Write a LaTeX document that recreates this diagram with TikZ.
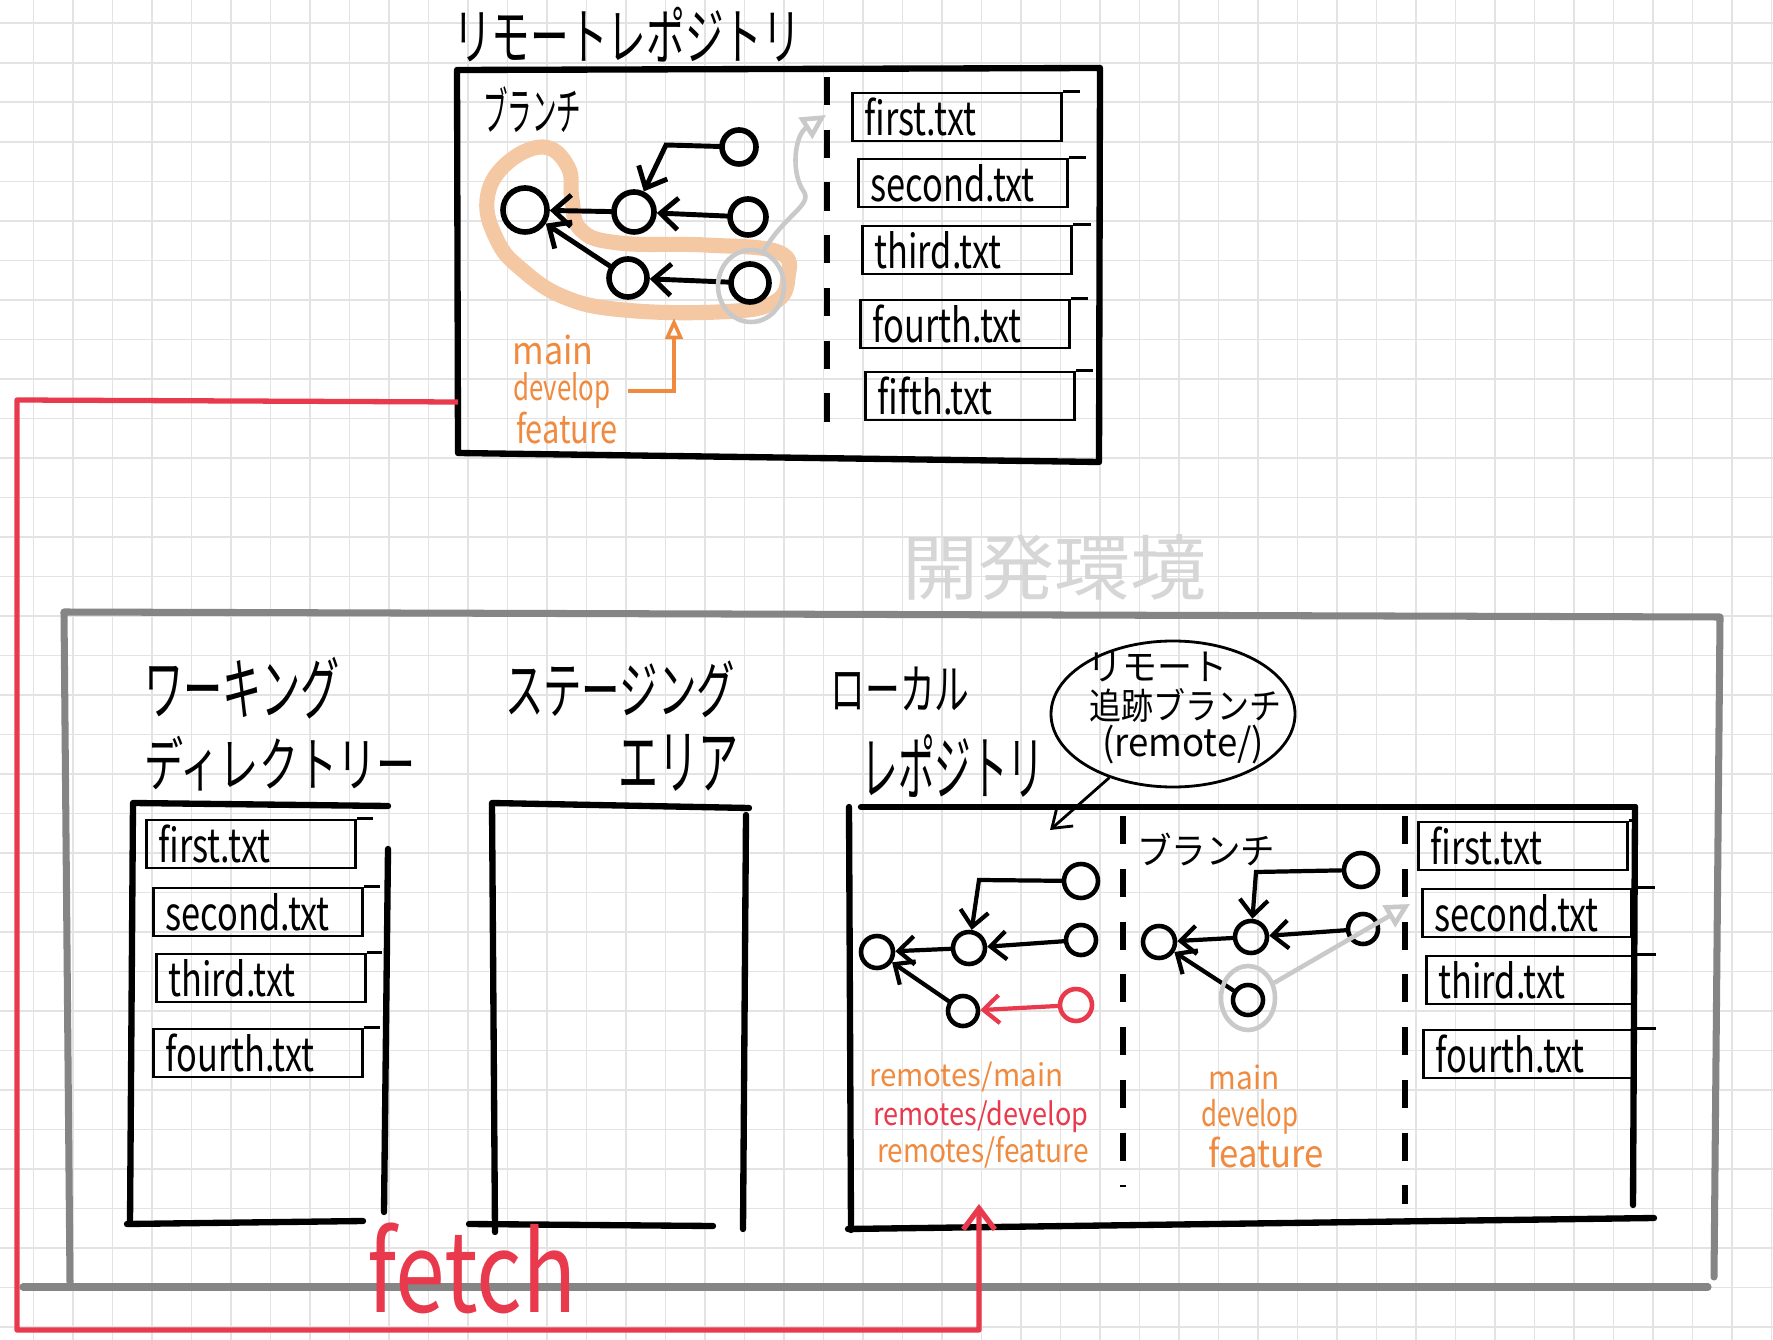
\documentclass[tikz,border=0pt]{standalone}
\usepackage{fontspec}
\setmainfont{Noto Sans CJK JP}
\usepackage{graphicx}
\usetikzlibrary{arrows.meta,shapes.geometric}
\newlength\pxu \setlength\pxu{0.01cm}
\newcommand\fitt[3]{\resizebox*{#1\pxu}{#2\pxu}{#3}}
\newcommand\fname[1]{\scalebox{0.85}[1.15]{\fontsize{11.5}{13}\selectfont #1}}
\definecolor{gridc}{HTML}{E3E3E3}
\definecolor{orng}{HTML}{F08A3E}
\definecolor{redc}{HTML}{E8394D}
\definecolor{peach}{HTML}{F5C8A4}
\definecolor{boxgray}{HTML}{858585}
\definecolor{ltgray}{HTML}{D6D6D6}
\definecolor{arrgray}{HTML}{C9C9C9}
\begin{document}
\begin{tikzpicture}[x=0.01cm,y=-0.01cm,
  heavy/.style={line width=1.8pt, line cap=round, line join=round},
  dashdiv/.style={line width=1.5pt, dash pattern=on 8pt off 7pt},
  filebox/.style={draw, line width=0.8pt, minimum height=48\pxu, text width=185\pxu, inner xsep=12\pxu, inner ysep=0pt, align=left},
  commitR/.style={circle, draw, line width=1.6pt, inner sep=0pt},
  commitL/.style={circle, draw, line width=1.3pt, inner sep=0pt, minimum size=32\pxu},
  carrR/.style={line width=1.4pt, line cap=round, -{Straight Barb[length=5pt,width=9pt]}},
  carrL/.style={line width=1.2pt, line cap=round, -{Straight Barb[length=4.5pt,width=8pt]}},
  grayarr/.style={draw=arrgray, line width=1.3pt, -{Triangle[open,length=7pt,width=7pt]}},
  orarr/.style={draw=orng, line width=1pt, -{Triangle[open,length=6pt,width=5pt]}},
  txt/.style={inner sep=0pt}
]
\useasboundingbox (0,0) rectangle (1773,1340);
\fill[white] (0,0) rectangle (1773,1340);
% grid
\foreach \i in {0,...,44} \draw[gridc, line width=0.45pt] ({33.3+39.5*\i},0) -- ({33.3+39.5*\i},1340);
\foreach \j in {0,...,33} \draw[gridc, line width=0.45pt] (0,{23.3+39.5*\j}) -- (1773,{23.3+39.5*\j});

% ===== remote repository =====
\node[txt] (remTitle) at (627,35) {\fitt{348}{55}{リモートレポジトリ}};
\draw[heavy] (457,70) -- (1100,68) -- (1099,462) -- (458,453) -- cycle;
\node[txt] (remBr) at (532,110) {\fitt{98}{46}{ブランチ}};
\draw[dashdiv] (827,77) -- (827,425);

% highlight loop
\draw[peach, line width=4.3pt, line join=round] plot[smooth cycle, tension=0.7] coordinates {(543,147) (505,165) (487,200) (497,240) (520,268) (564,297) (624,310) (718,312) (773,303) (788,277) (778,252) (705,245) (619,243) (581,230) (572,200) (568,167)};

% commits
\node[commitR, minimum size=44\pxu] (rA) at (525,210) {};
\node[commitR, minimum size=40\pxu] (rB) at (634,212) {};
\node[commitR, minimum size=34\pxu] (rC) at (739,147) {};
\node[commitR, minimum size=36\pxu] (rD) at (748,217) {};
\node[commitR, minimum size=38\pxu] (rE) at (628,278) {};
\node[commitR, minimum size=38\pxu] (rF) at (750,283) {};
\coordinate (rCb) at (666,145);
\draw[carrR] (rB) -- (rA);
\draw[carrR] (rD) -- (rB);
\draw[carrR] (rF) -- (rE);
\draw[carrR] (rE) -- (rA);
\draw[carrR] (rC) -- (rCb) -- (rB);

% gray ring and arrow
\node[ellipse, draw=arrgray, line width=1.3pt, minimum width=66\pxu, minimum height=72\pxu, inner sep=0pt] (rFring) at (751,286) {};
\coordinate (rGtip) at (826,115);
\draw[grayarr] (rFring.70) .. controls (785,215) and (812,205) .. (804,192) .. controls (790,172) and (795,135) .. (rGtip);

% files
\node[filebox] (rF1) at (957,117) {\fname{first.txt}};
\node[filebox] (rF2) at (963,183) {\fname{second.txt}};
\node[filebox] (rF3) at (967,250) {\fname{third.txt}};
\node[filebox] (rF4) at (965,324) {\fname{fourth.txt}};
\node[filebox] (rF5) at (970,396) {\fname{fifth.txt}};
\foreach \n/\e in {rF1/17,rF2/17,rF3/18,rF4/17,rF5/17}
  \draw[line width=0.8pt] (\n.north east) -- ++(\e,0);

% labels
\node[txt, text=orng] (rMain) at (553,350) {\fitt{81}{30}{main}};
\node[txt, text=orng] (rDev) at (562,391) {\fitt{97}{36}{develop}};
\node[txt, text=orng] (rFeat) at (567,428) {\fitt{102}{32}{feature}};
\coordinate (rHlTip) at (674,318);
\draw[orarr] ([xshift=17\pxu]rDev.east) -| (rHlTip);

% ===== development environment =====
\node[txt, text=ltgray] (devEnv) at (1054,568) {\fitt{304}{66}{開発環境}};
\draw[boxgray, line width=2pt, line cap=round, line join=round] (70,1282) -- (64,612) -- (1720,617) -- (1714,1277);
\draw[boxgray, line width=2pt, line cap=round] (23,1287) -- (1708,1287);

% working directory
\node[txt] (wdT1) at (242,688) {\fitt{195}{62}{ワーキング}};
\node[txt] (wdT2) at (280,764) {\fitt{271}{55}{ディレクトリー}};
\draw[heavy] (130,1224) -- (133,803) -- (388,806);
\draw[heavy] (388,849) -- (384,1212);
\draw[heavy] (127,1224) -- (363,1221);
\node[filebox] (wF1) at (251,844) {\fname{first.txt}};
\node[filebox] (wF2) at (258,912) {\fname{second.txt}};
\node[filebox] (wF3) at (261,978) {\fname{third.txt}};
\node[filebox] (wF4) at (258,1053) {\fname{fourth.txt}};
\foreach \n/\e in {wF1/16,wF2/16,wF3/15,wF4/16}
  \draw[line width=0.8pt] (\n.north east) -- ++(\e,0);

% staging area
\node[txt] (stT1) at (620,689) {\fitt{230}{57}{ステージング}};
\node[txt] (stT2) at (678,763) {\fitt{120}{57}{エリア}};
\draw[heavy] (495,1232) -- (492,803) -- (749,808);
\draw[heavy] (746,815) -- (743,1229);
\draw[heavy] (469,1224) -- (713,1226);

% local repository
\node[txt] (loT1) at (900,689) {\fitt{139}{44}{ローカル}};
\node[txt] (loT2) at (953,766) {\fitt{183}{63}{レポジトリ}};
\draw[heavy] (861,807) -- (1635,807);
\draw[heavy] (849,807) -- (851,1230);
\draw[heavy] (1635,807) -- (1633,1205);
\draw[heavy] (848,1229) -- (1654,1218);
\draw[dashdiv] (1123,816) -- (1123,1187);
\draw[dashdiv] (1405,816) -- (1405,1204);

% bubble
\node[ellipse, draw, line width=0.8pt, minimum width=244\pxu, minimum height=146\pxu, inner sep=0pt] (bubble) at (1173,714) {};
\node[txt] (bub1) at (1157,667) {\fitt{140}{30}{リモート}};
\node[txt] (bub2) at (1185,705) {\fitt{192}{34}{追跡ブランチ}};
\node[txt] (bub3) at (1183,745) {\fitt{162}{39}{(remote/)}};
\coordinate (bubTip) at (1050,830);
\draw[line width=0.8pt, -{Straight Barb[length=5pt,width=7pt]}] (bubble.-135) -- (bubTip);

\node[txt] (loBr) at (1206,850) {\fitt{138}{33}{ブランチ}};

% remote-tracking commits
\node[commitL] (lA) at (877,952) {};
\node[commitL] (lB) at (969,948) {};
\node[commitL, minimum size=34\pxu] (lC) at (1081,881) {};
\node[commitL, minimum size=30\pxu] (lD) at (1081,940) {};
\node[commitL, minimum size=30\pxu] (lE) at (963,1011) {};
\node[commitL, draw=redc] (lF) at (1076,1005) {};
\coordinate (lCb) at (979,880);
\draw[carrL] (lB) -- (lA);
\draw[carrL] (lD) -- (lB);
\draw[carrL] (lC) -- (lCb) -- (lB);
\draw[carrL] (lE) -- (lA);
\draw[carrL, redc] (lF) -- (lE);

% local branch commits
\node[commitL] (mA) at (1159,942) {};
\node[commitL] (mB) at (1251,937) {};
\node[commitL, minimum size=34\pxu] (mC) at (1361,870) {};
\node[commitL, minimum size=30\pxu] (mD) at (1363,929) {};
\node[commitL, minimum size=30\pxu] (mE) at (1248,1000) {};
\coordinate (mCb) at (1256,872);
\draw[carrL] (mB) -- (mA);
\draw[carrL] (mD) -- (mB);
\draw[carrL] (mC) -- (mCb) -- (mB);
\draw[carrL] (mE) -- (mA);
\node[ellipse, draw=arrgray, line width=1.3pt, minimum width=54\pxu, minimum height=64\pxu, inner sep=0pt] (mEring) at (1248,998) {};
\coordinate (mGtip) at (1410,904);
\draw[grayarr] (mEring) -- (mGtip);

% labels
\node[txt, text=orng] (lL1) at (966,1077) {\fitt{194}{30}{remotes/main}};
\node[txt, text=redc] (lL2) at (981,1117) {\fitt{215}{32}{remotes/develop}};
\node[txt, text=orng] (lL3) at (983,1152) {\fitt{212}{32}{remotes/feature}};
\node[txt, text=orng] (mL1) at (1244,1077) {\fitt{71}{25}{main}};
\node[txt, text=orng] (mL2) at (1250,1117) {\fitt{97}{35}{develop}};
\node[txt, text=orng] (mL3) at (1266,1152) {\fitt{115}{31}{feature}};

% files
\node[filebox] (lF1) at (1523,846) {\fname{first.txt}};
\node[filebox] (lF2) at (1527,913) {\fname{second.txt}};
\node[filebox] (lF3) at (1531,980) {\fname{third.txt}};
\node[filebox] (lF4) at (1528,1054) {\fname{fourth.txt}};
\foreach \n/\e in {lF1/8,lF2/22,lF3/19,lF4/22}
  \draw[line width=0.8pt] (\n.north east) -- ++(\e,0);

% ===== fetch =====
\node[txt, text=redc] (fetch) at (472,1268) {\fitt{209}{91}{fetch}};
\coordinate (fetchS) at (458,402);
\coordinate (fetchE) at (979,1204);
\draw[redc, line width=1.5pt, line join=round, -{Straight Barb[length=6pt,width=9pt]}] (fetchS) -- (17,400) -- (17,1330) -- (979,1330) -- (fetchE);
\end{tikzpicture}
\end{document}
